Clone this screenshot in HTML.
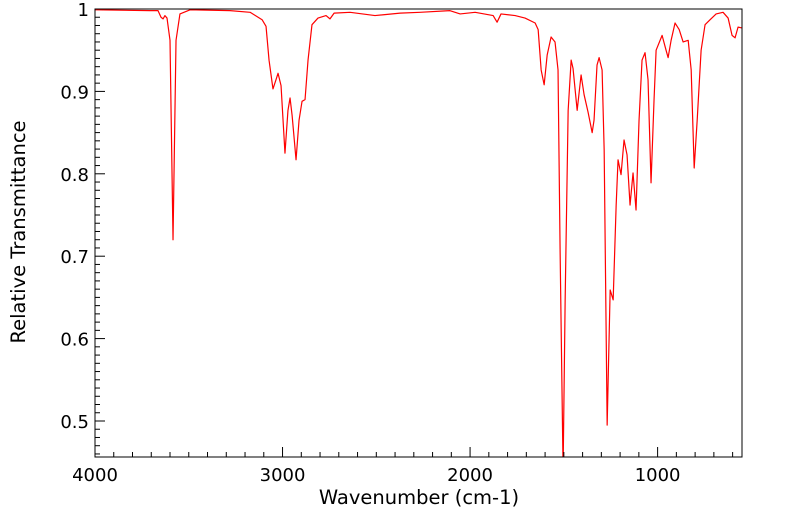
<!DOCTYPE html>
<html><head><meta charset="utf-8"><style>
html,body{margin:0;padding:0;background:#fff;}
svg{display:block;font-family:"DejaVu Sans","Liberation Sans",sans-serif;}
</style></head><body>
<svg id="chart" width="799" height="516"></svg>
<script>
const wavenumbers=[4000,3707,3664,3648,3637,3627,3616,3600,3584,3568,3547,3493,3280,3173,3109,3088,3072,3051,3035,3024,3008,2987,2971,2960,2949,2928,2912,2896,2880,2864,2843,2811,2768,2747,2725,2640,2507,2373,2267,2107,2053,1973,1877,1856,1835,1760,1707,1653,1637,1621,1605,1589,1568,1547,1531,1520,1504,1493,1477,1461,1451,1429,1408,1392,1371,1349,1339,1323,1312,1296,1285,1269,1253,1237,1221,1211,1195,1179,1163,1147,1131,1115,1099,1083,1067,1051,1035,1019,1008,976,955,944,928,907,885,864,837,821,805,789,768,747,720,688,651,624,603,587,571,550];
const transmittance=[0.999,0.998,0.998,0.99,0.988,0.992,0.989,0.962,0.72,0.962,0.994,0.999,0.998,0.996,0.987,0.979,0.938,0.903,0.914,0.922,0.907,0.825,0.877,0.892,0.871,0.817,0.865,0.888,0.89,0.938,0.981,0.989,0.992,0.988,0.995,0.996,0.992,0.995,0.996,0.998,0.994,0.996,0.992,0.984,0.994,0.992,0.989,0.983,0.975,0.926,0.908,0.944,0.966,0.96,0.926,0.708,0.44,0.647,0.877,0.938,0.928,0.877,0.92,0.896,0.875,0.85,0.865,0.932,0.941,0.926,0.829,0.495,0.659,0.647,0.762,0.817,0.799,0.841,0.823,0.762,0.801,0.756,0.865,0.938,0.947,0.914,0.789,0.89,0.95,0.968,0.95,0.941,0.962,0.983,0.975,0.96,0.962,0.926,0.807,0.865,0.95,0.981,0.987,0.994,0.996,0.989,0.968,0.965,0.978,0.977];
const xTickValues=[4000,3000,2000,1000];
const xTickLabels=["4000","3000","2000","1000"];
const yTickValues=[1,0.9,0.8,0.7,0.6,0.5];
const yTickLabels=["1","0.9","0.8","0.7","0.6","0.5"];

const L=95,R=742,T=9,B=457,XMAX=4000,XMIN=550,YMAX=1,YMIN=0.4563;
const sx=v=>L+(XMAX-v)/(XMAX-XMIN)*(R-L);
const sy=v=>T+(YMAX-v)/(YMAX-YMIN)*(B-T);
const NS="http://www.w3.org/2000/svg";
const svg=document.getElementById('chart');
function mk(tag,attrs,parent){const e=document.createElementNS(NS,tag);for(const k in attrs)e.setAttribute(k,attrs[k]);(parent||svg).appendChild(e);return e;}

const defs=mk('defs',{});
const cp=mk('clipPath',{id:'plotclip'},defs);
mk('rect',{x:L,y:T,width:R-L,height:B-T},cp);

let d='';
for(let i=0;i<wavenumbers.length;i++){d+=(i?'L':'M')+sx(wavenumbers[i]).toFixed(2)+','+sy(transmittance[i]).toFixed(2);}
const line=mk('path',{d:d,fill:'none',stroke:'#ff0000','stroke-width':1.2,'stroke-linejoin':'round','clip-path':'url(#plotclip)'});



const frame=mk('rect',{x:L,y:T,width:R-L,height:B-T,fill:'none',stroke:'#000','stroke-width':1});



for(let v=4000;v>=XMIN;v-=100){
  const x=sx(v);const major=(v%1000===0);
  mk('line',{x1:x,x2:x,y1:B,y2:B-(major?10:5),stroke:'#000','stroke-width':1});
}
xTickValues.forEach((v,i)=>{
  const t=mk('text',{x:sx(v),y:B+24,'text-anchor':'middle','font-size':18,fill:'#000'});
  t.textContent=xTickLabels[i];
  
  
});
for(let k=0;k<=54;k++){
  const v=1-k*0.01;if(v<YMIN)break;
  const y=sy(v);const major=(k%10===0);
  mk('line',{x1:L,x2:L+(major?10:5),y1:y,y2:y,stroke:'#000','stroke-width':1});
}
yTickValues.forEach((v,i)=>{
  const t=mk('text',{x:L-6,y:sy(v)+7,'text-anchor':'end','font-size':18,fill:'#000'});
  t.textContent=yTickLabels[i];
  
  
});
const xt=mk('text',{x:419,y:504,'text-anchor':'middle','font-size':19.5,fill:'#000'});
xt.textContent='Wavenumber (cm-1)';


const yt=mk('text',{x:0,y:0,'text-anchor':'middle','font-size':19.5,fill:'#000',transform:'translate(25,232) rotate(-90)'});
yt.textContent='Relative Transmittance';


</script>
</body></html>
